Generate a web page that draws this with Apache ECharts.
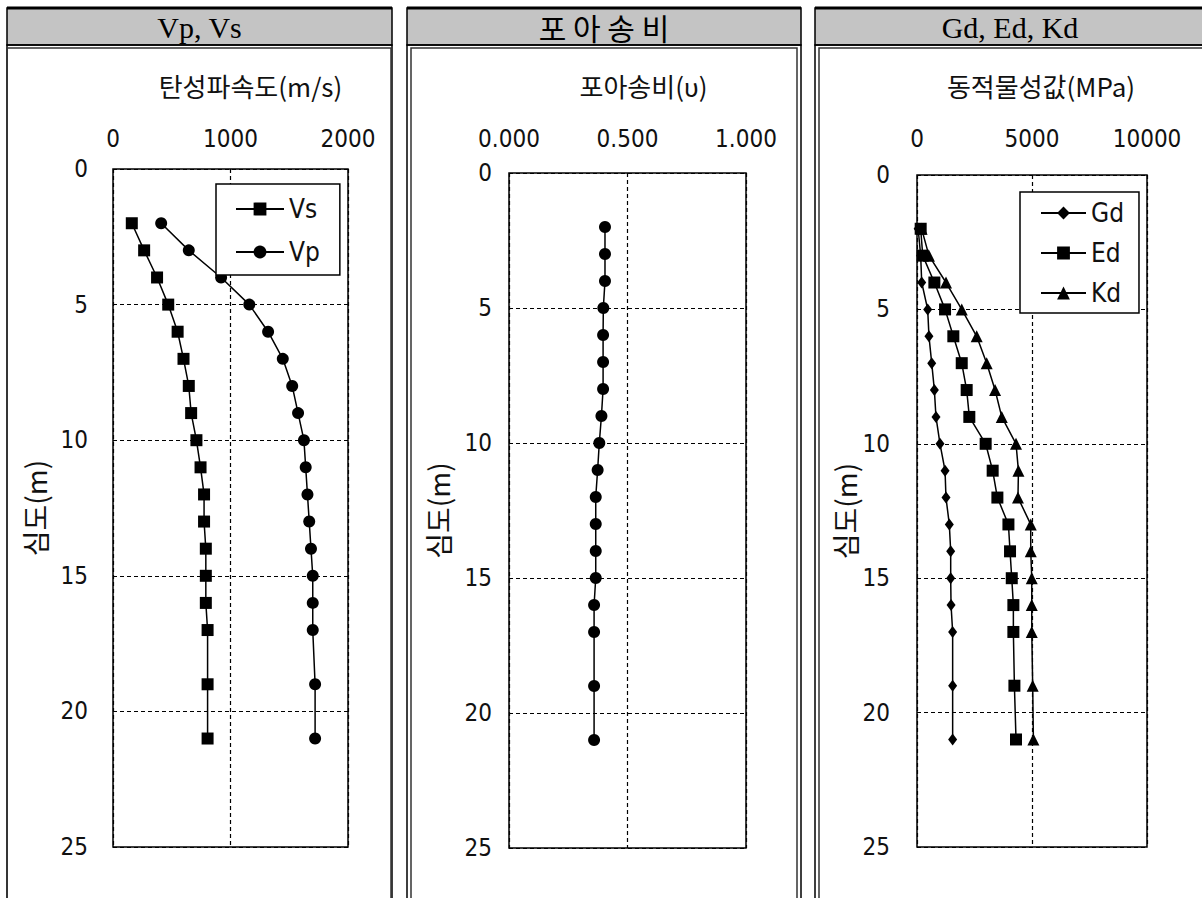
<!DOCTYPE html>
<html><head><meta charset="utf-8">
<script src="https://cdn.jsdelivr.net/npm/echarts@6/dist/echarts.min.js"></script>
<style>html,body{margin:0;padding:0;background:#fff}#c{width:1202px;height:898px}</style>
</head><body><div id="c"></div>
<script>
// ---- data ----
const depths = [2,3,4,5,6,7,8,9,10,11,12,13,14,15,16,17,19,21];
const vs = [160,265,375,470,550,600,645,665,710,745,775,775,790,790,790,805,805,805];
const vp = [410,645,920,1160,1320,1445,1525,1575,1625,1640,1655,1670,1685,1700,1700,1700,1720,1720];
const poisson = [0.405,0.405,0.405,0.398,0.397,0.397,0.397,0.390,0.381,0.374,0.366,0.366,0.366,0.366,0.359,0.359,0.359,0.359];
const gd = [50,160,205,465,520,640,755,825,1000,1220,1260,1405,1465,1465,1480,1550,1550,1550];
const ed = [160,250,755,1220,1580,1945,2160,2275,2985,3290,3495,3975,4045,4120,4190,4190,4235,4305];
const kd = [200,520,1260,1945,2595,3030,3395,3685,4305,4410,4390,4945,4945,4990,4990,4990,5030,5060];

const panelTitles = ['Vp, Vs', '포 아 송 비', 'Gd, Ed, Kd'];
const xNames = ['탄성파속도(m/s)', '포아송비(υ)', '동적물성값(MPa)'];
const yName = '심도(m)';
const xMax = [2000, 1, 10000];
const xInterval = [1000, 0.5, 5000];
const yMax = 25, yInterval = 5;

const NUM_FONT = '"DejaVu Sans Condensed", "Liberation Sans Narrow", sans-serif';
const KR_FONT = '"Noto Sans CJK KR", sans-serif';
const SERIF_FONT = '"Liberation Serif", "DejaVu Serif", serif';

function pairs(vals){ return vals.map((v,i)=>[v, depths[i]]); }

const grids = [
  {left:113, top:169, width:235, height:678},
  {left:509, top:173, width:237, height:675},
  {left:917, top:175, width:230, height:672}
];
const namePad = [40, 32, 18];
const yLabelMargin = [25, 17, 27];
const yNameGap = [64, 57, 56];

const dash = {color:'#000', type:[4,3], width:1.2};

const xAxes = grids.map((g,i)=>({
  gridIndex:i, type:'value', position:'top', min:0, max:xMax[i], interval:xInterval[i],
  name:xNames[i], nameLocation:'middle', nameGap:g.top - 98,
  nameTextStyle:{fontFamily:KR_FONT, fontSize:26, color:'#111', padding:[0,0,0,namePad[i]]},
  axisLine:{show:false}, axisTick:{show:false},
  axisLabel:{fontFamily:NUM_FONT, fontSize:24, color:'#111', margin:18 + (g.top-169),
    formatter: i===1 ? (v)=>v.toFixed(3) : (v)=>String(v)},
  splitLine:{show:true, lineStyle:dash}
}));
const yAxes = grids.map((g,i)=>({
  gridIndex:i, type:'value', inverse:true, min:0, max:yMax, interval:yInterval,
  name:yName, nameLocation:'middle', nameGap:yNameGap[i],
  nameTextStyle:{fontFamily:KR_FONT, fontSize:28, color:'#111'},
  axisLine:{show:false}, axisTick:{show:false},
  axisLabel:{fontFamily:NUM_FONT, fontSize:24, color:'#111', margin:yLabelMargin[i]},
  splitLine:{show:true, lineStyle:dash}
}));

function line(name, vals, gi, symbol, size){
  return {type:'line', name, xAxisIndex:gi, yAxisIndex:gi, data:pairs(vals),
    symbol, symbolSize:size, showSymbol:true,
    lineStyle:{color:'#000', width:1.5}, itemStyle:{color:'#000'}, z:3};
}

const series = [
  line('Vs', vs, 0, 'rect', 12),
  line('Vp', vp, 0, 'circle', 12),
  line('포아송비', poisson, 1, 'circle', 12),
  line('Gd', gd, 2, 'diamond', [9,12]),
  line('Ed', ed, 2, 'rect', 12),
  line('Kd', kd, 2, 'triangle', 12)
];

const legendBase = {orient:'vertical', selectedMode:false, itemHeight:16,
  backgroundColor:'#fff', borderColor:'#000', borderWidth:1.5, borderRadius:0,
  textStyle:{fontFamily:NUM_FONT, fontSize:26, color:'#111', lineHeight:30}, z:10};

const panels = [
  {x:7, w:385},
  {x:407, w:394},
  {x:815, w:400}
];
const graphic = [];
panels.forEach((p,i)=>{
  graphic.push({type:'rect', shape:{x:p.x, y:8, width:p.w, height:37},
    style:{fill:'#c4c4c4', stroke:'#000', lineWidth:1.5}, z:-1});
  graphic.push({type:'line', shape:{x1:p.x, y1:8, x2:p.x+p.w, y2:8}, style:{stroke:'#000', lineWidth:3}, z:-1});
  graphic.push({type:'rect', shape:{x:p.x, y:45, width:p.w, height:900},
    style:{fill:'none', stroke:'#000', lineWidth:1.5}, z:-1});
  graphic.push({type:'rect', shape:{x:p.x+(i===0?0:4), y:48, width:p.w-(i===0?1:8), height:900},
    style:{fill:'none', stroke:'#333', lineWidth:1.5}, z:-1});
  graphic.push({type:'text', x:(i===2? 1010 : p.x+p.w/2), y:27,
    style:{text:panelTitles[i], fontFamily: i===1 ? KR_FONT : SERIF_FONT, fontSize:30,
      fill:'#000', align:'center', verticalAlign:'middle'}, z:5});
});

const option = {
  animation:false,
  backgroundColor:'#fff',
  grid: grids.map(g=>Object.assign({show:true, borderColor:'#000', borderWidth:1.5, backgroundColor:'transparent'}, g)),
  xAxis:xAxes, yAxis:yAxes, series,
  legend:[
    Object.assign({}, legendBase, {data:['Vs','Vp'], left:216, top:184, padding:[10,20,8,19], itemGap:13, itemWidth:48}),
    Object.assign({}, legendBase, {data:['Gd','Ed','Kd'], left:1020, top:192, padding:[6,15,5,20], itemGap:10, itemWidth:45})
  ],
  graphic
};
const chart = echarts.init(document.getElementById('c'), null, {renderer:'svg'});
chart.setOption(option);
</script></body></html>
